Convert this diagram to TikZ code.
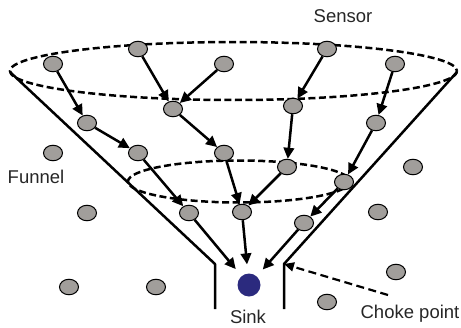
\documentclass[tikz,border=0pt]{standalone}
\usepackage{fontspec}
\setmainfont{Liberation Sans}
\usetikzlibrary{arrows.meta,shapes.geometric}
\definecolor{sensorgray}{HTML}{A19E9B}
\definecolor{sinkblue}{HTML}{2B2A7E}
\tikzset{
  sensor/.style={ellipse,draw=black,line width=1pt,fill=sensorgray,minimum width=19pt,minimum height=15.5pt,inner sep=0pt},
  sinknode/.style={circle,fill=sinkblue,minimum size=23pt,inner sep=0pt},
  flow/.style={line width=2.5pt,-{Triangle[length=11pt,width=10.5pt]}},
  ring/.style={line width=2.5pt,dash pattern=on 7pt off 3.5pt},
  wall/.style={line width=2.5pt},
  lbl/.style={font=\fontsize{18.5}{20}\selectfont,text=black!85,anchor=base,inner sep=0pt}
}
\begin{document}
\begin{tikzpicture}[x=1pt,y=-1pt]
\useasboundingbox (0,0) rectangle (461,327);
% ellipses
\draw[ring] (233.5,71) ellipse [x radius=223.5, y radius=29];
\draw[ring] (239,181.5) ellipse [x radius=111, y radius=21];
% funnel walls
\coordinate (lt) at (10,72);
\coordinate (lc) at (215,264);
\coordinate (lb) at (215,309);
\coordinate (rt) at (457,72);
\coordinate (rc) at (284,264);
\coordinate (rb) at (284,309);
\draw[wall,line join=round] (lt) -- (lc) -- (lb);
\draw[wall,line join=round] (rt) -- (rc) -- (rb);
% sensors
\node[sensor] (a) at (53,64) {};
\node[sensor] (b) at (138,49) {};
\node[sensor] (c) at (224,64) {};
\node[sensor] (d) at (327,49) {};
\node[sensor] (e) at (395,64) {};
\node[sensor] (f) at (87,123) {};
\node[sensor] (g) at (173,109) {};
\node[sensor] (h) at (293,106) {};
\node[sensor] (i) at (376,123) {};
\node[sensor] (j) at (53,153) {};
\node[sensor] (k) at (138,153) {};
\node[sensor] (l) at (224,153) {};
\node[sensor] (m) at (287,167) {};
\node[sensor] (n) at (413,167) {};
\node[sensor] (o) at (87,213) {};
\node[sensor] (p) at (189,213) {};
\node[sensor] (q) at (242,212) {};
\node[sensor] (r) at (344,182) {};
\node[sensor] (s) at (304,223) {};
\node[sensor] (t) at (378,212) {};
\node[sensor] (u) at (69,287) {};
\node[sensor] (v) at (156,287) {};
\node[sensor] (w) at (396,272) {};
\node[sensor] (x) at (327,302) {};
\node[sinknode] (sink) at (249,285) {};
% flows
\draw[flow] (a) -- (f);
\draw[flow] (f) -- (k);
\draw[flow] (b) -- (g);
\draw[flow] (c) -- (g);
\draw[flow] (g) -- (l);
\draw[flow] (d) -- (h);
\draw[flow] (h) -- (m);
\draw[flow] (e) -- (i);
\draw[flow] (i) -- (r);
\draw[flow] (k) -- (p);
\draw[flow] (l) -- (q);
\draw[flow] (m) -- (q);
\draw[flow] (r) -- (s);
\draw[flow,shorten >=9pt] (p) -- (sink);
\draw[flow,shorten >=9pt] (q) -- (sink);
\draw[flow,shorten >=9pt] (s) -- (sink);
% choke point
\coordinate (cs) at (388,295);
\draw[line width=2.2pt,dash pattern=on 8pt off 4.5pt,-{Triangle[length=10pt,width=9pt]}] (cs) -- (rc);
% labels
\node[lbl] (sensorlbl) at (343,22) {Sensor};
\node[lbl] (funnellbl) at (36,183) {Funnel};
\node[lbl] (sinklbl) at (248,323) {Sink};
\node[lbl] (chokelbl) at (410,318) {Choke point};
\end{tikzpicture}
\end{document}
